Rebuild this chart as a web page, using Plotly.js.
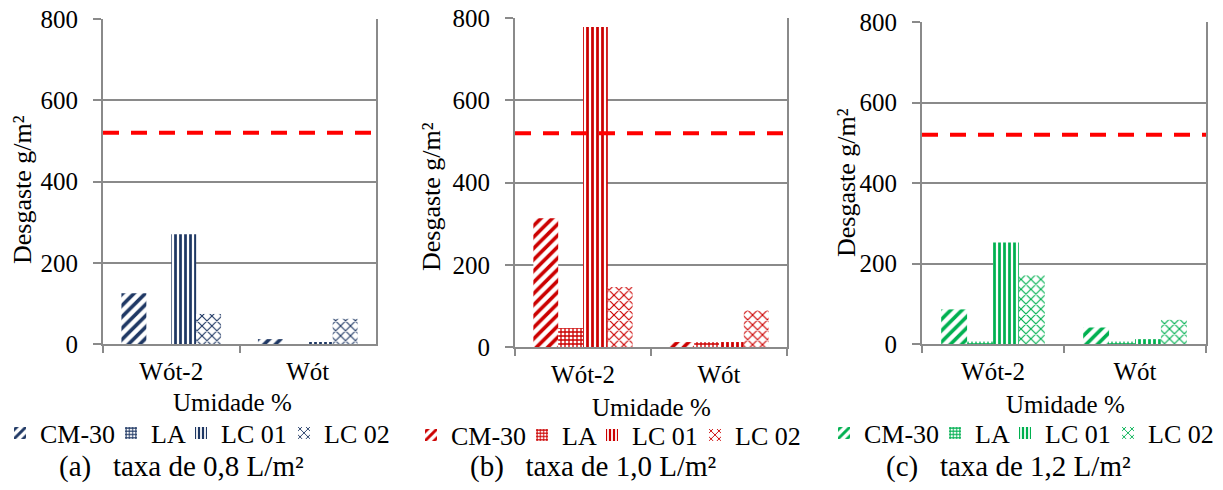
<!DOCTYPE html>
<html><head><meta charset="utf-8">
<script src="https://cdn.plot.ly/plotly-3.0.1.min.js"></script>
<style>html,body{margin:0;padding:0;background:#fff}#chart{width:1223px;height:490px}</style>
</head><body><div id="chart"></div>
<script>
// ---- data ----
const categories = ['Wót-2', 'Wót'];
const seriesNames = ['CM-30', 'LA', 'LC 01', 'LC 02'];
const yTicks = [0, 200, 400, 600, 800];
const limite = 520;

const taxa08_CM30 = [125, 12];
const taxa08_LA   = [0, 0];
const taxa08_LC01 = [270, 5];
const taxa08_LC02 = [74, 62];

const taxa10_CM30 = [313, 12];
const taxa10_LA   = [46, 12];
const taxa10_LC01 = [778, 12];
const taxa10_LC02 = [146, 90];

const taxa12_CM30 = [86, 41];
const taxa12_LA   = [6, 6];
const taxa12_LC01 = [252, 12];
const taxa12_LC02 = [171, 60];

const captions = ['(a)\u00a0\u00a0\u00a0taxa de 0,8 L/m²', '(b)\u00a0\u00a0\u00a0taxa de 1,0 L/m²', '(c)\u00a0\u00a0\u00a0taxa de 1,2 L/m²'];
const yTitle = 'Desgaste g/m²';
const xTitle = 'Umidade %';

// ---- styling ----
const W = 1223, H = 490;
const FONT = 'Liberation Serif, serif';
const TICK_FS = 25, LEG_FS = 26, YT_FS = 26, XT_FS = 25, CAP_FS = 29;
const GRID = '#8a8a8a';
const colors = ['#1F3864', '#CC0000', '#00B050'];
const patterns = [
  {shape: '/', size: 8, solidity: 0.45},
  {shape: '+', size: 4, solidity: 0.55},
  {shape: '|', size: 5, solidity: 0.55},
  {shape: 'x', size: 7, solidity: 0.3}
];
const legendWidths = [66, 25, 58, 60];

const panels = [
  {data: [taxa08_CM30, taxa08_LA, taxa08_LC01, taxa08_LC02], px: [103, 376], py: [19, 344], ytx: 22, yty: 190, xtx: 232, xty: 402, legx: 0, legy: 433, capx: 181, capy: 466},
  {data: [taxa10_CM30, taxa10_LA, taxa10_LC01, taxa10_LC02], px: [515, 787], py: [18, 347], ytx: 432, yty: 197, xtx: 651, xty: 407, legx: 411, legy: 435, capx: 593, capy: 466},
  {data: [taxa12_CM30, taxa12_LA, taxa12_LC01, taxa12_LC02], px: [922, 1206], py: [22, 344], ytx: 846, yty: 183, xtx: 1065, xty: 404, legx: 824, legy: 433, capx: 1008, capy: 466}
];

const traces = [];
const layout = {
  width: W, height: H,
  margin: {l: 0, r: 0, t: 0, b: 0},
  paper_bgcolor: '#fff', plot_bgcolor: '#fff',
  font: {family: FONT, size: TICK_FS, color: '#000'},
  barmode: 'group', bargap: 0.27, bargroupgap: 0,
  showlegend: true,
  shapes: [], annotations: []
};

panels.forEach((p, i) => {
  const n = i === 0 ? '' : String(i + 1);
  const xa = 'x' + n, ya = 'y' + n;
  const leg = 'legend' + n;
  p.data.forEach((vals, s) => {
    traces.push({
      type: 'bar', x: categories, y: vals, name: seriesNames[s],
      xaxis: xa, yaxis: ya, legend: leg, legendwidth: legendWidths[s],
      marker: {
        color: colors[i],
        line: {width: 0},
        pattern: Object.assign({fgcolor: colors[i], bgcolor: '#ffffff', fillmode: 'replace'}, patterns[s])
      },
      hoverinfo: 'x+y+name'
    });
  });
  layout['xaxis' + n] = {
    domain: [p.px[0] / W, p.px[1] / W], anchor: ya, type: 'category',
    showline: true, linecolor: GRID, linewidth: 2,
    ticks: 'outside', tickson: 'boundaries', ticklen: 7, tickwidth: 2, tickcolor: GRID,
    ticklabelstandoff: 4,
    showgrid: false, zeroline: false,
    tickfont: {family: FONT, size: TICK_FS, color: '#000'}, fixedrange: true
  };
  layout['yaxis' + n] = {
    domain: [1 - p.py[1] / H, 1 - p.py[0] / H], anchor: xa,
    range: [0, 800], tickvals: yTicks,
    showline: true, mirror: true, linecolor: GRID, linewidth: 2,
    ticks: 'outside', ticklen: 8, tickwidth: 2, tickcolor: GRID,
    ticklabelstandoff: 10,
    showgrid: true, gridcolor: GRID, gridwidth: 2, zeroline: false,
    tickfont: {family: FONT, size: TICK_FS, color: '#000'}, fixedrange: true
  };
  layout[leg] = {
    orientation: 'h', x: p.legx / W, xanchor: 'left', y: 1 - p.legy / H, yanchor: 'middle',
    font: {family: FONT, size: LEG_FS, color: '#000'}, itemwidth: 30, bgcolor: 'rgba(0,0,0,0)',
    borderwidth: 0, traceorder: 'normal'
  };
  layout.shapes.push({
    type: 'line', xref: xa + ' domain', x0: 0, x1: 1, yref: ya, y0: limite, y1: limite,
    line: {color: '#FF0000', width: 4, dash: '16px,12px'}, layer: 'above'
  });
  layout.annotations.push(
    {text: yTitle, xref: 'paper', yref: 'paper', x: p.ytx / W, y: 1 - p.yty / H, textangle: -90,
     showarrow: false, xanchor: 'center', yanchor: 'middle', font: {family: FONT, size: YT_FS, color: '#000'}},
    {text: xTitle, xref: 'paper', yref: 'paper', x: p.xtx / W, y: 1 - p.xty / H,
     showarrow: false, xanchor: 'center', yanchor: 'middle', font: {family: FONT, size: XT_FS, color: '#000'}},
    {text: captions[i], xref: 'paper', yref: 'paper', x: p.capx / W, y: 1 - p.capy / H,
     showarrow: false, xanchor: 'center', yanchor: 'middle', font: {family: FONT, size: CAP_FS, color: '#000'}}
  );
});

Plotly.newPlot('chart', traces, layout, {displayModeBar: false, staticPlot: true});
</script>
</body></html>
